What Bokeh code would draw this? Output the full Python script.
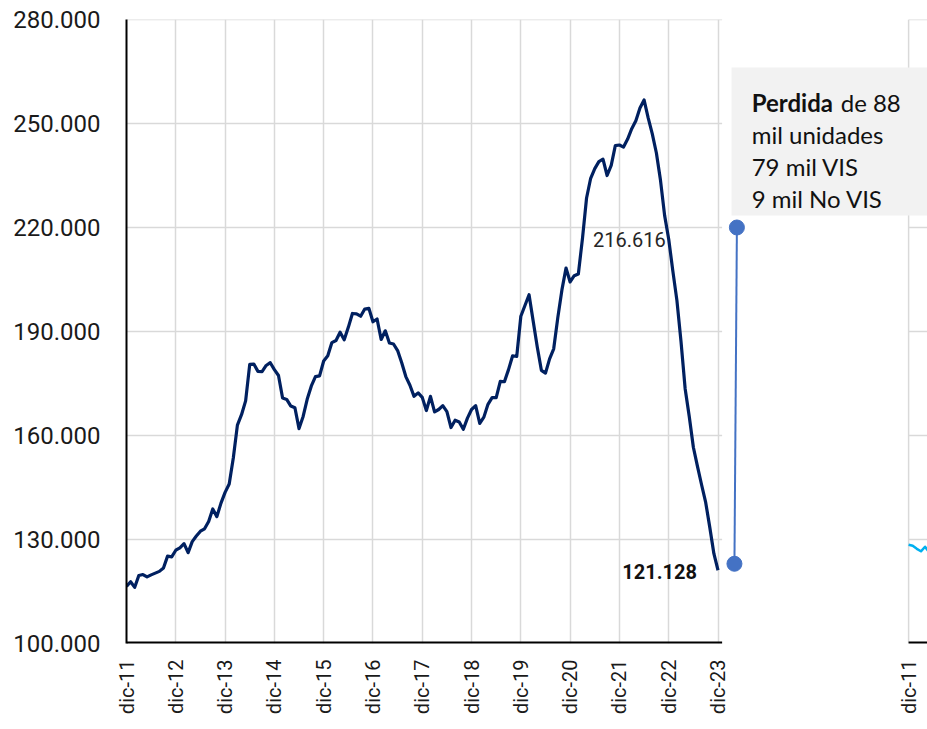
from math import pi
from bokeh.plotting import figure
from bokeh.models import Range1d, FixedTicker
from bokeh.core.properties import value
from bokeh.embed import file_html
from bokeh.resources import INLINE

# ---------------- data ----------------
x_tick_labels = ["dic-11", "dic-12", "dic-13", "dic-14", "dic-15", "dic-16", "dic-17",
                 "dic-18", "dic-19", "dic-20", "dic-21", "dic-22", "dic-23"]
y_ticks = [100000, 130000, 160000, 190000, 220000, 250000, 280000]
y_tick_labels = ["100.000", "130.000", "160.000", "190.000", "220.000", "250.000", "280.000"]

# monthly values, dic-11 ... dic-23
sales = [
    116500, 117800, 116200, 119600, 119900, 119200, 119800, 120300, 120800, 121800, 125200, 125000,
    126900, 127600, 128800, 126200, 129400, 131000, 132400, 133100, 135200, 138800, 136600, 140500,
    143600, 146000, 153500, 163000, 166000, 170000, 180500, 180600, 178500, 178400, 180200, 181000,
    179000, 177300, 170800, 170400, 168500, 168000, 162000, 165500, 170500, 174300, 177000, 177200,
    181500, 183000, 186800, 187400, 189800, 187600, 191200, 195200, 195100, 194400, 196500, 196700,
    192800, 193600, 187700, 190200, 186700, 186400, 184500, 181000, 177000, 174500, 171300, 172300,
    171000, 167200, 171300, 166800, 167500, 168600, 166900, 162300, 164400, 163900, 161800, 165000,
    167500, 168600, 163500, 165300, 169000, 170900, 170900, 175600, 175500, 179000, 183000, 182800,
    194400, 197500, 200600, 193000, 185500, 178800, 178000, 182100, 185000, 194000, 202000, 208300,
    204300, 206100, 206600, 216800, 228500, 234200, 237000, 239000, 239700, 235000, 237900, 243600,
    243800, 243200, 245500, 248500, 250800, 254500, 256800, 251600, 247000, 241500, 233600, 223500,
    216616, 207500, 198900, 187000, 173500, 165500, 156600, 151100, 145800, 140700, 133500, 125900,
    121128,
]
months = list(range(len(sales)))
label_months = ["dic-22", "dic-23"]

# partially visible second chart (first months)
right_sales = [128500, 128200, 127300, 126600, 127900, 126300]
right_tick_label = "dic-11"

# annotation
ann_lines = ["mil unidades", "79 mil VIS", "9 mil No VIS"]
ann_title_bold = "Perdida"
ann_title_rest = "de 88"
ann_top_value = 220000
ann_bottom_value = 123000

# ---------------- layout constants ----------------
X_END = 195.0            # visible x extent (months)
MAIN_END = 145           # main chart extent
RIGHT_AXIS = 190.4       # position of the cut-off second chart's axis
ANN_X_TOP, ANN_X_BOTTOM = 148.6, 148.0
BOX_LEFT, BOX_TOP, BOX_BOTTOM = 147.3, 266150, 223460
TEXT_X = 152.2
TEXT_Y = [256100, 246800, 237650, 228300]

GRID = "#d9d9d9"
NAVY = "#002060"
BLUE = "#4472C4"
CYAN = "#00B0F0"

x_ticks = [i * 12 for i in range(len(x_tick_labels))]

p = figure(width=927, height=729, output_backend="svg", toolbar_location=None,
           x_range=Range1d(0, X_END), y_range=Range1d(y_ticks[0], y_ticks[-1]),
           min_border_left=126, min_border_right=0, min_border_top=19, min_border_bottom=86)
p.outline_line_color = None
p.background_fill_color = "white"
p.border_fill_color = "white"

p.ygrid.visible = False
p.xgrid.ticker = FixedTicker(ticks=x_ticks)
p.xgrid.grid_line_color = GRID
p.xgrid.grid_line_width = 1.5

# axes
axis_ticks = x_ticks + [RIGHT_AXIS]
axis_labels = x_tick_labels + [right_tick_label]
p.xaxis.ticker = FixedTicker(ticks=axis_ticks)
p.xaxis.major_label_overrides = {t: l for t, l in zip(axis_ticks, axis_labels)}
p.xaxis.major_label_orientation = pi / 2
p.xaxis.axis_line_color = None
p.xaxis.major_tick_line_color = None
p.xaxis.minor_tick_line_color = None
p.xaxis.major_tick_in = 0
p.xaxis.major_tick_out = 0
p.xaxis.major_label_standoff = 16
p.xaxis.major_label_text_font = "Roboto"
p.xaxis.major_label_text_font_size = "20px"
p.xaxis.major_label_text_color = "#1a1a1a"

p.yaxis.ticker = FixedTicker(ticks=y_ticks)
p.yaxis.major_label_overrides = {t: l for t, l in zip(y_ticks, y_tick_labels)}
p.yaxis.axis_line_color = "black"
p.yaxis.axis_line_width = 2
p.yaxis.major_tick_line_color = None
p.yaxis.minor_tick_line_color = None
p.yaxis.major_tick_in = 0
p.yaxis.major_tick_out = 0
p.yaxis.major_label_standoff = 26
p.yaxis.major_label_text_font = "Roboto"
p.yaxis.major_label_text_font_size = "24px"
p.yaxis.major_label_text_color = "#1a1a1a"

# horizontal grid lines of the main chart (stop at its end)
p.segment(x0=[0] * (len(y_ticks) - 1), x1=[MAIN_END] * (len(y_ticks) - 1),
          y0=y_ticks[1:], y1=y_ticks[1:], line_color=GRID, line_width=1.5)

# cut-off second chart on the right
p.segment(x0=[RIGHT_AXIS] * (len(y_ticks) - 1), x1=[X_END] * (len(y_ticks) - 1),
          y0=y_ticks[1:], y1=y_ticks[1:], line_color=GRID, line_width=1.5)
p.segment(x0=[RIGHT_AXIS], x1=[RIGHT_AXIS], y0=[y_ticks[0]], y1=[y_ticks[-1]],
          line_color=GRID, line_width=1.5)
p.line([RIGHT_AXIS + m for m in range(len(right_sales))], right_sales,
       line_color=CYAN, line_width=2.5, line_join="round")

# bottom axis lines (main chart and cut-off chart)
p.segment(x0=[0, RIGHT_AXIS], x1=[MAIN_END, X_END], y0=[y_ticks[0]] * 2, y1=[y_ticks[0]] * 2,
          line_color="black", line_width=4)

# main series
p.line(months, sales, line_color=NAVY, line_width=3.2, line_join="round")

# data labels
label_idx = [x_ticks[x_tick_labels.index(m)] for m in label_months]
fmt = lambda v: f"{v:,}".replace(",", ".")
p.text(x=[label_idx[0]], y=[sales[label_idx[0]]], text=[fmt(sales[label_idx[0]])],
       text_font=value("Roboto"), text_font_size="20px", text_color="#262626",
       text_align="right", text_baseline="middle", x_offset=-3)
p.text(x=[label_idx[1]], y=[sales[label_idx[1]]], text=[fmt(sales[label_idx[1]])],
       text_font=value("Roboto"), text_font_size="20px", text_font_style="bold",
       text_color="#111111", text_align="right", text_baseline="middle", x_offset=-21, y_offset=1)

# annotation box
p.quad(left=[BOX_LEFT], right=[X_END], top=[BOX_TOP], bottom=[BOX_BOTTOM],
       fill_color="#f2f2f2", line_color=None)
p.text(x=[TEXT_X], y=[TEXT_Y[0]], text=[ann_title_bold], text_font=value("Lato"),
       text_font_size="24px", text_font_style="bold", text_color="#111111",
       text_align="left", text_baseline="alphabetic")
p.text(x=[TEXT_X], y=[TEXT_Y[0]], text=[ann_title_rest], text_font=value("Lato"),
       text_font_size="24px", text_color="#111111", x_offset=89,
       text_align="left", text_baseline="alphabetic")
p.text(x=[TEXT_X] * len(ann_lines), y=TEXT_Y[1:], text=ann_lines, text_font=value("Lato"),
       text_font_size="24px", text_color="#111111",
       text_align="left", text_baseline="alphabetic")

# loss indicator
p.segment(x0=[ANN_X_TOP], x1=[ANN_X_BOTTOM], y0=[ann_top_value], y1=[ann_bottom_value],
          line_color=BLUE, line_width=2)
p.scatter([ANN_X_TOP, ANN_X_BOTTOM], [ann_top_value, ann_bottom_value], size=15,
          fill_color=BLUE, line_color=BLUE)

open("out.html", "w").write(file_html(p, INLINE))
